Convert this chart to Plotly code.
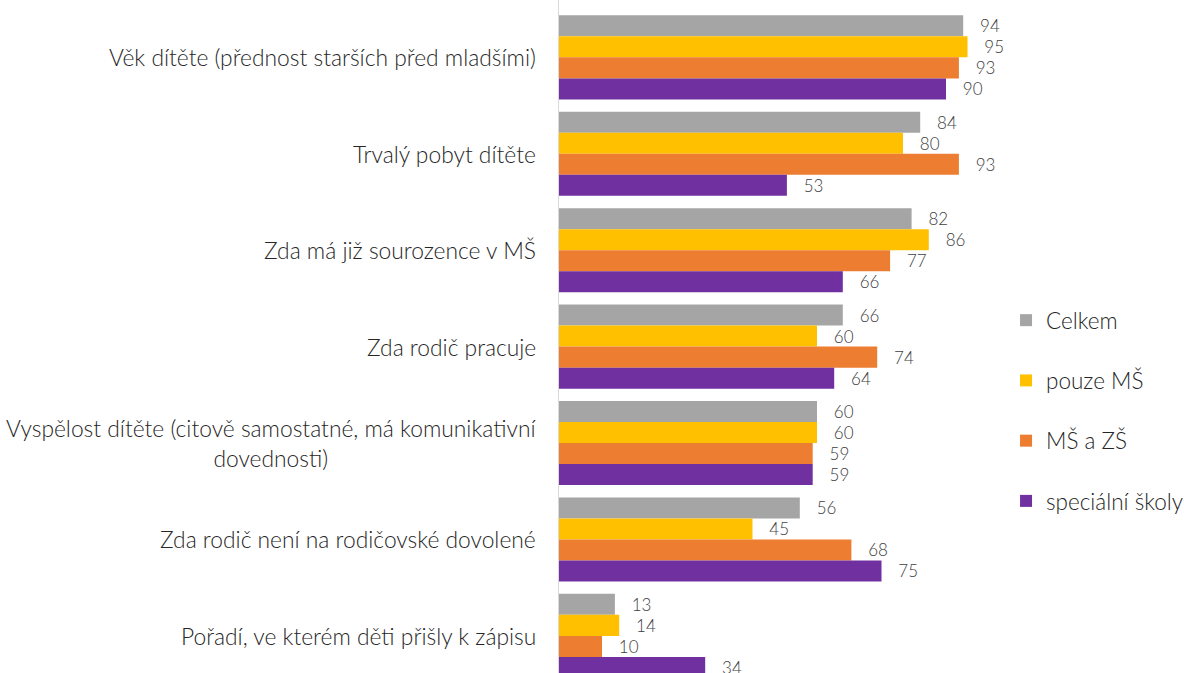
import plotly.graph_objects as go

categories = [
    "Věk dítěte (přednost starších před mladšími)",
    "Trvalý pobyt dítěte",
    "Zda má již sourozence v MŠ",
    "Zda rodič pracuje",
    "Vyspělost dítěte (citově samostatné, má komunikativní<br>dovednosti)",
    "Zda rodič není na rodičovské dovolené",
    "Pořadí, ve kterém děti přišly k zápisu",
]
series_names = ["Celkem", "pouze MŠ", "MŠ a ZŠ", "speciální školy"]
celkem = [94, 84, 82, 66, 60, 56, 13]
pouze_ms = [95, 80, 86, 60, 60, 45, 14]
ms_a_zs = [93, 93, 77, 74, 59, 68, 10]
specialni = [90, 53, 66, 64, 59, 75, 34]
series_values = [celkem, pouze_ms, ms_a_zs, specialni]
colors = ["#A5A5A5", "#FFC000", "#ED7D31", "#7030A0"]

FONT = "Lato"
positions = list(range(len(categories)))

fig = go.Figure()
for i, (name, vals, col) in enumerate(zip(series_names, series_values, colors)):
    fig.add_trace(go.Bar(
        y=positions, x=vals, name=name, orientation="h",
        marker=dict(color=col, line=dict(width=0)),
        text=vals, texttemplate="\u00a0\u00a0\u00a0%{x}", textposition="outside",
        textfont=dict(family=FONT, size=17, color="#404040", weight=300),
        cliponaxis=False,
        legendgroup=name,
    ))

for p, c in zip(positions, categories):
    fig.add_annotation(
        x=0, xref="paper", xanchor="right", xshift=-21,
        y=p, yref="y", yanchor="middle",
        text=c, showarrow=False, align="center",
        font=dict(family=FONT, size=22.8, color="#262626", weight=300),
    )

fig.update_layout(
    width=1184, height=673,
    margin=dict(l=559, r=195, t=0, b=0),
    paper_bgcolor="white", plot_bgcolor="white",
    barmode="group", bargap=0.128, bargroupgap=0,
    font=dict(family=FONT, color="#404040"),
    xaxis=dict(range=[0, 100], visible=False, fixedrange=True),
    yaxis=dict(range=[6.385, -0.595], showticklabels=False, showgrid=False,
               zeroline=False, showline=True, linecolor="#D9D9D9", linewidth=1,
               ticks=""),
    legend=dict(xref="container", x=0.8497, xanchor="left",
                yref="container", y=0.39, yanchor="middle",
                font=dict(family=FONT, size=22.5, color="#262626", weight=300),
                tracegroupgap=28, itemwidth=30, bgcolor="rgba(0,0,0,0)"),
    showlegend=True,
)

fig.write_html("out.html", config={"displayModeBar": False},
               post_script="document.body.style.margin='0';")
